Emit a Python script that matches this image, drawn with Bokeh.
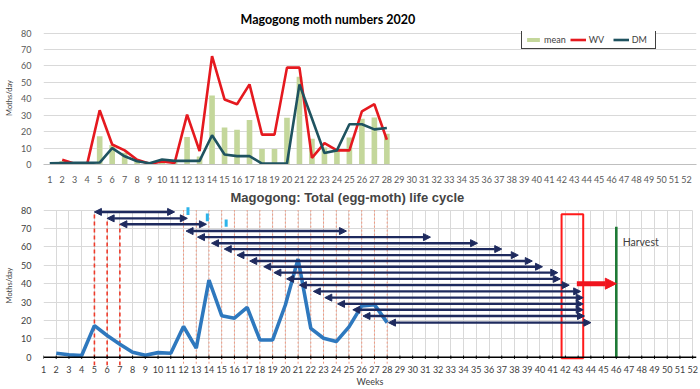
import math
from bokeh.plotting import figure
from bokeh.layouts import column
from bokeh.models import ColumnDataSource, Arrow, NormalHead, Span, FixedTicker, Range1d
from bokeh.core.properties import value
from bokeh.embed import file_html
from bokeh.resources import INLINE

nan = float("nan")

# ---------------- data ----------------
weeks = list(range(1, 29))
mean = [nan, 2.2, 1.3, 0.9, 17.2, 11.8, 7.1, 2.7, 1.1, 2.5, 2.2, 16.7, 4.9, 42.0,
        22.6, 21.2, 27.1, 9.4, 9.4, 28.4, 53.4, 15.7, 10.3, 8.5, 16.5, 27.9, 28.6, 18.8]
wv = [nan, 2.9, 0.4, 0.4, 33.0, 12.2, 8.6, 2.9, 0.4, 1.8, 1.0, 30.4, 8.2, 66.0,
      39.6, 36.7, 48.8, 18.2, 18.2, 59.0, 59.0, 4.0, 13.0, 8.6, 8.6, 32.4, 36.7, 15.1]
dm = [0.8, 0.9, 1.0, 1.0, 1.2, 10.0, 5.0, 2.0, 0.8, 3.0, 2.2, 2.2, 2.2, 17.8,
      6.1, 5.1, 5.1, 0.6, 0.6, 0.6, 48.8, 28.0, 7.0, 8.6, 24.5, 24.5, 21.4, 22.2]

all_weeks = list(range(1, 53))
y_ticks = list(range(0, 81, 10))

# life-cycle arrows (egg -> moth)
arrow_start = [5, 6, 7, 12.2, 13.1, 14.2, 15.2, 16.2, 17.2, 18.3, 19.1, 20.1,
               21.1, 22.2, 23.1, 24.1, 25.3, 26.1, 28.1]
arrow_end = [11.3, 12.3, 13.8, 24.8, 31.4, 35.1, 37.0, 38.3, 39.4, 40.2, 41.4,
             41.6, 42.3, 43.2, 43.4, 43.4, 43.4, 43.5, 44.0]
arrow_y = [79.0, 75.5, 72.3, 68.6, 65.3, 62.0, 58.8, 55.5, 52.3, 49.2, 46.0,
           42.6, 39.2, 35.8, 32.4, 29.0, 25.8, 22.4, 18.8]

first_weeks = [5, 6, 7]
first_tops = [79.0, 75.5, 72.3]
later_weeks = list(range(12, 29))

marker_x = [12.35, 13.87, 15.35]
marker_lo = [77.3, 74.0, 70.9]
marker_hi = [81.6, 78.2, 74.9]

window_left = [41.7]
window_right = [43.4]
window_bottom = [-0.5]
window_top = [77.7]

harvest_week = [46]
harvest_top = [71]
shift_from = 42.9
shift_level = 40

FONT = "Lato"
GRID = "#D9D9D9"

# ---------------- top chart ----------------
p1 = figure(width=700, height=186, x_range=Range1d(0.5, 52.8), y_range=Range1d(0, 81),
            output_backend="svg", toolbar_location=None,
            min_border_left=43, min_border_right=3, min_border_top=31, min_border_bottom=22,
            title="Magogong moth numbers 2020")
p1.title.align = "left"
p1.title.offset = 197
p1.title.standoff = 10
p1.title.text_font = "Lato"
p1.title.text_font_size = "12.5px"
p1.title.text_font_style = "bold"
p1.title.text_color = "#000000"
p1.outline_line_color = None
p1.xgrid.visible = False
p1.ygrid.ticker = FixedTicker(ticks=y_ticks)
p1.ygrid.grid_line_color = GRID
p1.yaxis.ticker = FixedTicker(ticks=y_ticks)
p1.xaxis.ticker = FixedTicker(ticks=all_weeks)
for ax in (p1.xaxis[0], p1.yaxis[0]):
    ax.major_tick_line_color = None
    ax.minor_tick_line_color = None
    ax.major_label_text_font = FONT
    ax.major_label_text_font_size = "9px"
    ax.major_label_text_color = "#595959"
p1.xaxis.axis_line_color = "#BFBFBF"
p1.yaxis.axis_line_color = None
p1.xaxis.major_label_standoff = 5
p1.yaxis.major_label_standoff = 6
p1.yaxis.axis_label = "Moths/day"
p1.yaxis.axis_label_text_font = FONT
p1.yaxis.axis_label_text_font_size = "7.5px"
p1.yaxis.axis_label_text_font_style = "normal"
p1.yaxis.axis_label_text_color = "#404040"
p1.yaxis.axis_label_standoff = 4

src1 = ColumnDataSource(dict(week=weeks, mean=mean, wv=wv, dm=dm))
p1.vbar(x="week", top="mean", width=0.45, source=src1, fill_color="#C4D79B",
        line_color=None, legend_label="mean")
p1.line("week", "wv", source=src1, line_color="#E5191F", line_width=2.6, legend_label="WV")
p1.line("week", "dm", source=src1, line_color="#1F5360", line_width=2.6, legend_label="DM")

lg = p1.legend[0]
lg.orientation = "horizontal"
lg.location = (478, 115)
lg.label_text_font = FONT
lg.label_text_font_size = "9px"
lg.label_text_color = "#404040"
lg.glyph_height = 5
lg.glyph_width = 16
lg.label_height = 10
lg.label_standoff = 3
lg.spacing = 4
lg.padding = 3
lg.margin = 0
lg.border_line_color = "#404040"
lg.border_line_alpha = 1
lg.border_line_width = 1.2
lg.background_fill_alpha = 1

# ---------------- bottom chart ----------------
p2 = figure(width=700, height=203, x_range=Range1d(1, 52.3), y_range=Range1d(-4.5, 82.5),
            output_backend="svg", toolbar_location=None,
            min_border_left=42, min_border_right=4, min_border_top=19, min_border_bottom=24,
            title="Magogong: Total (egg-moth) life cycle")
p2.title.align = "left"
p2.title.offset = 187
p2.title.standoff = 1
p2.title.text_font = "Liberation Sans"
p2.title.text_font_size = "13px"
p2.title.text_font_style = "bold"
p2.outline_line_color = None
p2.xaxis.ticker = FixedTicker(ticks=all_weeks)
p2.yaxis.ticker = FixedTicker(ticks=y_ticks)
p2.xgrid.ticker = FixedTicker(ticks=all_weeks)
p2.ygrid.ticker = FixedTicker(ticks=y_ticks)
p2.xgrid.grid_line_color = GRID
p2.ygrid.grid_line_color = GRID
p2.xgrid.cross_bounds = (0, 80)
p2.ygrid.cross_bounds = (1, 52)
for ax in (p2.xaxis[0], p2.yaxis[0]):
    ax.major_tick_line_color = None
    ax.minor_tick_line_color = None
    ax.axis_line_color = None
    ax.major_label_text_font = FONT
    ax.major_label_text_font_size = "9px"
    ax.major_label_text_color = "#404040"
p2.xaxis.major_tick_out = 0
p2.xaxis.major_tick_in = 0
p2.xaxis.minor_tick_out = 0
p2.xaxis.major_label_standoff = 0
p2.yaxis.major_label_standoff = 6
p2.xaxis.axis_label = "Weeks"
p2.xaxis.axis_label_text_font = FONT
p2.xaxis.axis_label_text_font_size = "9px"
p2.xaxis.axis_label_text_font_style = "normal"
p2.xaxis.axis_label_text_color = "#404040"
p2.xaxis.axis_label_standoff = 0
p2.yaxis.axis_label = "Moths/day"
p2.yaxis.axis_label_text_font = FONT
p2.yaxis.axis_label_text_font_size = "7.5px"
p2.yaxis.axis_label_text_font_style = "normal"
p2.yaxis.axis_label_text_color = "#404040"
p2.yaxis.axis_label_standoff = 4

# vertical guide lines
p2.segment(x0=first_weeks, y0=[-4.5] * 3, x1=first_weeks, y1=first_tops,
           line_color="#EE3B2A", line_width=1.6, line_dash="4 3")
p2.segment(x0=later_weeks, y0=[-3.5] * len(later_weeks), x1=later_weeks,
           y1=[80] * len(later_weeks), line_color="#F2987F", line_width=1, line_dash="2 2")

# x-axis line at zero with ticks
p2.add_layout(Span(location=0, dimension="width", line_color="#000000", line_width=1.5))
p2.segment(x0=all_weeks, y0=[-0.9] * 52, x1=all_weeks, y1=[0.9] * 52,
           line_color="#000000", line_width=1)

# mean line
src2 = ColumnDataSource(dict(week=weeks, mean=mean))
p2.line("week", "mean", source=src2, line_color="#2E78BE", line_width=3.6)

# cyan markers
p2.segment(x0=marker_x, y0=marker_lo, x1=marker_x, y1=marker_hi,
           line_color="#2DB4EA", line_width=3)

# life cycle arrows
NAVY = "#1E2A5E"
asrc = ColumnDataSource(dict(x0=arrow_start, x1=arrow_end, y=arrow_y))
p2.add_layout(Arrow(x_start="x0", y_start="y", x_end="x1", y_end="y", source=asrc,
                    line_color=NAVY, line_width=2.4,
                    start=NormalHead(size=7, fill_color=NAVY, line_color=NAVY, line_width=1),
                    end=NormalHead(size=7, fill_color=NAVY, line_color=NAVY, line_width=1)))

# harvest window box
p2.quad(left=window_left, right=window_right, bottom=window_bottom, top=window_top,
        fill_color=None, line_color="#FF1A1A", line_width=2)

# harvest line
p2.segment(x0=harvest_week, y0=[0], x1=harvest_week, y1=harvest_top,
           line_color="#1E7A36", line_width=2.6)
p2.text(x=[harvest_week[0] + 0.5], y=[62.5], text=["Harvest"], text_font=value(FONT),
        text_font_size="10.5px", text_color="#404040", text_baseline="middle",
        text_align="left")

# shift arrow
p2.add_layout(Arrow(x_start=shift_from, y_start=shift_level, x_end=harvest_week[0],
                    y_end=shift_level, line_color="#F0141E", line_width=5,
                    end=NormalHead(size=11, fill_color="#F0141E", line_color="#F0141E")))

layout = column(p1, p2)
open("out.html", "w").write(file_html(layout, INLINE))
